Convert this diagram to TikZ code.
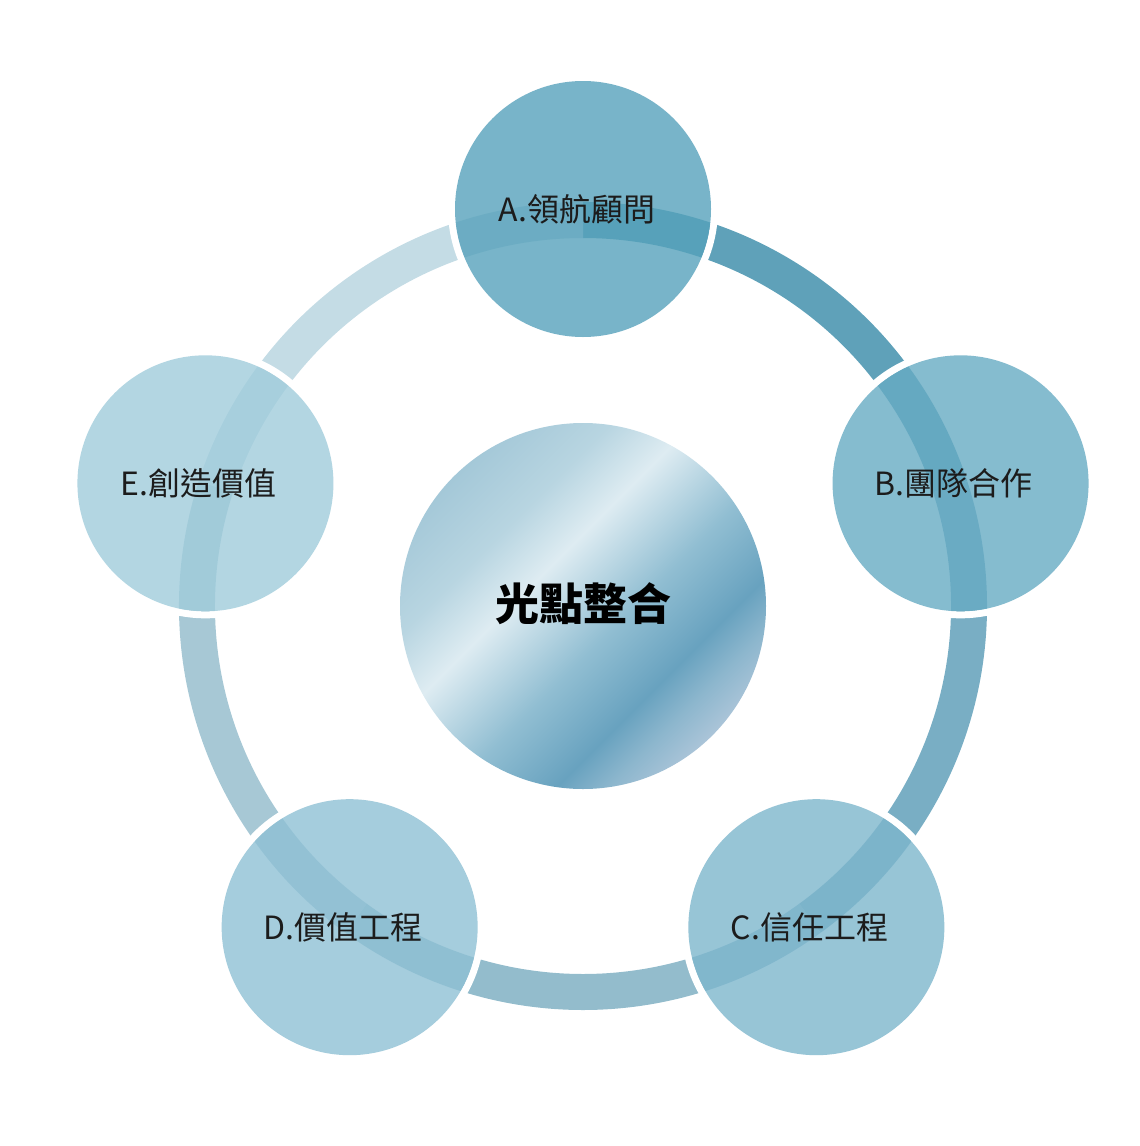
\documentclass[tikz,border=0pt]{standalone}
\usepackage{fontspec}
\newfontfamily\cjk{Noto Sans CJK TC}
\usetikzlibrary{calc}
\definecolor{segAB}{RGB}{95,161,185}
\definecolor{segBC}{RGB}{121,174,196}
\definecolor{segCD}{RGB}{147,188,204}
\definecolor{segDE}{RGB}{167,200,213}
\definecolor{segEA}{RGB}{196,220,229}
\definecolor{fillA}{RGB}{86,161,187}
\definecolor{fillB}{RGB}{103,171,195}
\definecolor{fillC}{RGB}{125,182,204}
\definecolor{fillD}{RGB}{142,192,212}
\definecolor{fillE}{RGB}{160,204,219}
\definecolor{txt}{RGB}{28,28,28}
\definecolor{m1}{RGB}{164,200,216}
\definecolor{m2}{RGB}{184,213,225}
\definecolor{m3}{RGB}{222,236,242}
\definecolor{m4}{RGB}{145,190,210}
\definecolor{m5}{RGB}{104,162,191}
\definecolor{m6}{RGB}{140,182,205}
\definecolor{m7}{RGB}{170,196,216}
\pgfdeclarehorizontalshading{metal}{100bp}{color(0bp)=(m1); color(25bp)=(m1); color(35bp)=(m2); color(43bp)=(m3); color(55bp)=(m4); color(65bp)=(m5); color(70bp)=(m6); color(75bp)=(m7); color(100bp)=(m7)}
\tikzset{
  seg/.style={line width=36pt, line cap=butt},
  halo/.style={draw=white, line width=7pt},
  bubble/.style={circle, minimum size=256pt, inner sep=0pt, draw=none, fill opacity=0.8},
  lbl/.style={font=\cjk\fontsize{32pt}{38pt}\selectfont, text=txt, inner sep=0pt},
  hub/.style={circle, minimum size=366pt, inner sep=0pt, shading=metal, shading angle=-45},
  hubtxt/.style={font=\cjk\bfseries\fontsize{44pt}{52pt}\selectfont, text=black, inner sep=0pt}
}
\begin{document}
\begin{tikzpicture}[x=1pt,y=-1pt]
\useasboundingbox (0,0) rectangle (1140,1146);
\coordinate (O) at (583,606);
% ring segments
\draw[seg, segAB] ($(O)+(-90:386)$) arc[start angle=-90, end angle=-18, radius=386];
\draw[seg, segBC] ($(O)+(-18:386)$) arc[start angle=-18, end angle=54, radius=386];
\draw[seg, segCD] ($(O)+(54:386)$) arc[start angle=54, end angle=126, radius=386];
\draw[seg, segDE] ($(O)+(126:386)$) arc[start angle=126, end angle=198, radius=386];
\draw[seg, segEA] ($(O)+(198:386)$) arc[start angle=198, end angle=270, radius=386];
% node positions
\coordinate (pA) at ($(O)+(-90:397)$);
\coordinate (pB) at ($(O)+(-18:397)$);
\coordinate (pC) at ($(O)+(54:397)$);
\coordinate (pD) at ($(O)+(126:397)$);
\coordinate (pE) at ($(O)+(198:397)$);
% white halos
\foreach \p in {pA,pB,pC,pD,pE} \draw[halo] (\p) circle (131.5);
% bubbles
\node[bubble, fill=fillA] (A) at (pA) {};
\node[bubble, fill=fillB] (B) at (pB) {};
\node[bubble, fill=fillC] (C) at (pC) {};
\node[bubble, fill=fillD] (D) at (pD) {};
\node[bubble, fill=fillE] (E) at (pE) {};
\node[lbl] (At) at ([xshift=-6pt]A.center) {A.領航顧問};
\node[lbl] (Bt) at ([xshift=-7pt]B.center) {B.團隊合作};
\node[lbl] (Ct) at ([xshift=-7pt]C.center) {C.信任工程};
\node[lbl] (Dt) at ([xshift=-7pt]D.center) {D.價值工程};
\node[lbl] (Et) at ([xshift=-7pt]E.center) {E.創造價值};
% hub
\node[hub] (M) at (O) {};
\node[hubtxt] (Mt) at ([yshift=2pt]M.center) {光點整合};
\end{tikzpicture}
\end{document}
